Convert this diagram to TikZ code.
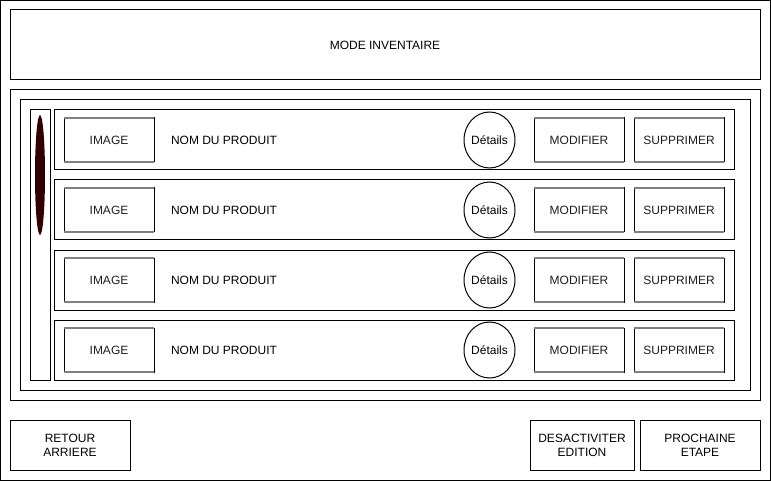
\documentclass[tikz,border=0pt]{standalone}
\usepackage{fontspec}
\setmainfont{Liberation Sans}
\usetikzlibrary{positioning,shapes.geometric}
\definecolor{thumbred}{HTML}{330000}
\begin{document}
\begin{tikzpicture}[x=1pt, y=-1pt, line width=1pt,
    every node/.style={font=\fontsize{12}{14}\selectfont, inner sep=0pt, outer sep=0pt, align=center},
    panel/.style={draw, anchor=north west},
    rowbox/.style={panel, minimum width=680, minimum height=60},
    button/.style={draw, text=black!88, minimum width=90, minimum height=44},
    edge/.style={draw=gray, line width=2pt},
    details/.style={draw, ellipse, inner xsep=-1.5pt, minimum width=51, minimum height=56},
    bottombtn/.style={panel, minimum height=50}]
    \useasboundingbox (0,0) rectangle (771,481);
    \draw (0.5,0.5) rectangle (770.5,480.5);
    \node[panel, minimum width=750, minimum height=70] (title) at (10,10) {MODE INVENTAIRE};
    \node[panel, minimum width=750, minimum height=310] (body) at (10,90) {};
    \node[panel, minimum width=730, minimum height=290] (list) at (20,100) {};
    \node[panel, minimum width=20, minimum height=270] (track) at (30,110) {};
    \node[ellipse, fill=thumbred, minimum width=10, minimum height=120] (thumb) at (40,175) {};
    \foreach \r in {0,...,3}{
        \node[rowbox] (row\r) at (54,110+70*\r) {};
        \node[button, right=10pt of row\r.west] (img\r) {IMAGE};
        \node[right=17pt of img\r] (name\r) {NOM DU PRODUIT};
        \node[button, left=10pt of row\r.east] (supp\r) {SUPPRIMER};
        \node[button, left=10pt of supp\r] (modif\r) {MODIFIER};
        \node[details, left=19pt of modif\r] (det\r) {Détails};
        \foreach \b in {img,modif,supp}
            \draw[edge] (\b\r.north west) -- (\b\r.north east)
                (\b\r.south west) -- (\b\r.south east);
    }
    \node[bottombtn, minimum width=120] (back) at (10,420) {RETOUR\\ARRIERE};
    \node[bottombtn, minimum width=104] (edit) at (530,420) {DESACTIVITER\\EDITION};
    \node[bottombtn, minimum width=120] (next) at (640,420) {PROCHAINE\\ETAPE};
\end{tikzpicture}
\end{document}
